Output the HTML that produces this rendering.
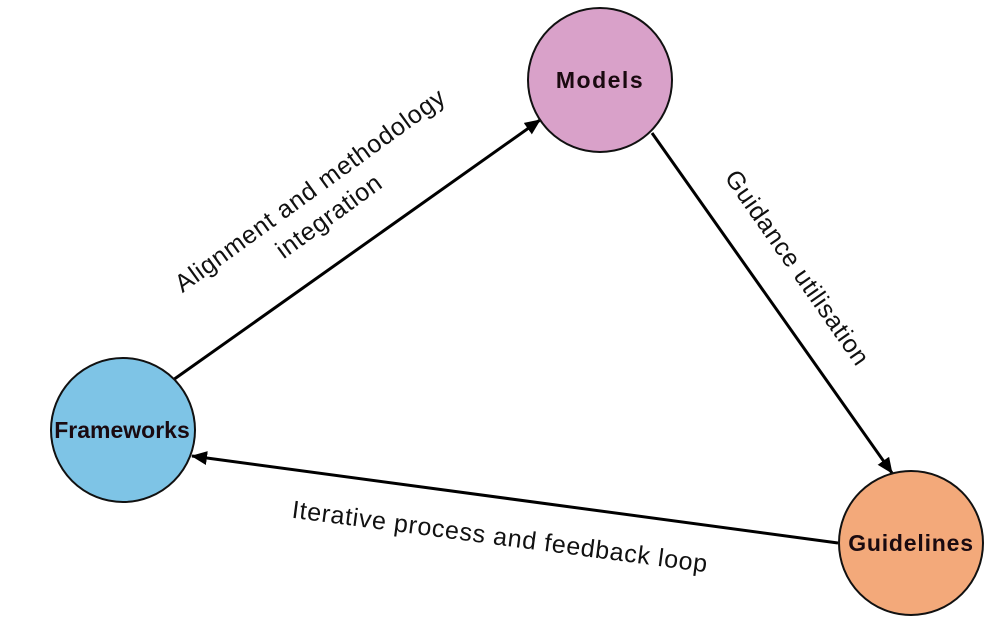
<!DOCTYPE html>
<html><head><style>
html,body{margin:0;padding:0;background:#fff;}
</style></head><body>
<svg width="999" height="621" xmlns="http://www.w3.org/2000/svg" font-family="Liberation Sans, sans-serif">
<defs>
<marker id="b" markerWidth="16" markerHeight="14" refX="15" refY="7" orient="auto" markerUnits="userSpaceOnUse"><path d="M0,0 L16,7 L0,14 Z" fill="#000"/></marker></defs>
<line x1="173" y1="380" x2="540" y2="120" stroke="#000" stroke-width="3" marker-end="url(#b)"/>
<line x1="652" y1="133" x2="892" y2="473" stroke="#000" stroke-width="3" marker-end="url(#b)"/>
<line x1="838" y1="543" x2="192" y2="456" stroke="#000" stroke-width="3" marker-end="url(#b)"/>
<circle cx="600" cy="80" r="72" fill="#d9a1c9" stroke="#111" stroke-width="2"/>
<circle cx="123" cy="430" r="72" fill="#7ec4e6" stroke="#111" stroke-width="2"/>
<circle cx="911" cy="543" r="72" fill="#f3a97a" stroke="#111" stroke-width="2"/>
<g font-weight="bold" font-size="23" fill="#1a0a10" text-anchor="middle">
<text x="600" y="88" letter-spacing="1.5">Models</text>
<text x="122" y="438">Frameworks</text>
<text x="911" y="551" letter-spacing="0.8">Guidelines</text>
</g>
<g font-size="25" fill="#111" text-anchor="middle" letter-spacing="0.7">
<text transform="translate(315,197) rotate(-36)"><tspan x="0" y="0">Alignment and methodology</tspan><tspan x="0" y="32">integration</tspan></text>
<text transform="translate(797,268) rotate(55)" y="8">Guidance utilisation</text>
<text transform="translate(500,537) rotate(7.5)" y="8">Iterative process and feedback loop</text>
</g>
</svg>
</body></html>
